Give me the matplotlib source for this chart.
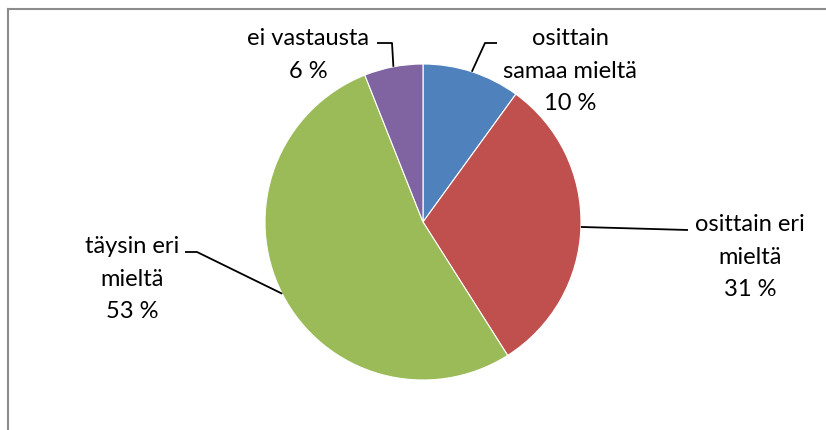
import numpy as np
import matplotlib.pyplot as plt
from matplotlib.lines import Line2D

labels = ['osittain\nsamaa mieltä', 'osittain eri\nmieltä', 'täysin eri\nmieltä', 'ei vastausta']
values = [10, 31, 53, 6]
colors = ['#4F81BD', '#C0504D', '#9BBB59', '#8064A2']

W, H = 826, 430
fig = plt.figure(figsize=(W / 100, H / 100), dpi=100)
ax = fig.add_axes([0, 0, 1, 1])

# pie in pixel coordinates (y flipped: 0 at bottom)
cx, cy, r = 423, H - 222, 158
wedges, _ = ax.pie(values, colors=colors, startangle=90, counterclock=False,
                   center=(cx, cy), radius=r,
                   wedgeprops=dict(edgecolor='white', linewidth=0.8))
ax.set_xlim(0, W)
ax.set_ylim(0, H)
ax.set_aspect('equal')
ax.axis('off')

# label text centres and leader elbows (pixel coords, y from top)
text_pos = [(570, 71), (750, 257), (132, 279), (308, 55)]
elbows = [[(497, 43), (485, 43)], [(688, 230)], [(185, 252), (197, 252)], [(377, 43), (392, 43)]]

total = sum(values)
start = 0
for i, v in enumerate(values):
    mid = (start + v / 2) / total * 2 * np.pi
    start += v
    ax_x = cx + r * np.sin(mid)
    ax_y = cy + r * np.cos(mid)
    pct = '%d %%' % round(100 * v / total)
    tx, ty = text_pos[i]
    ax.text(tx, H - ty, labels[i] + '\n' + pct, ha='center', va='center',
            fontsize=17, family='Lato', linespacing=1.68, color='black')
    xs = [p[0] for p in elbows[i]] + [ax_x]
    ys = [H - p[1] for p in elbows[i]] + [ax_y]
    ax.plot(xs, ys, color='black', lw=1.3, solid_capstyle='butt')

# chart frame (top and left edges visible)
fig.add_artist(Line2D([8 / W, 1], [1 - 9 / H, 1 - 9 / H], color='#8c8c8c', lw=1.5))
fig.add_artist(Line2D([8 / W, 8 / W], [0, 1 - 9 / H], color='#8c8c8c', lw=1.5))

fig.savefig('out.png', dpi=100)
